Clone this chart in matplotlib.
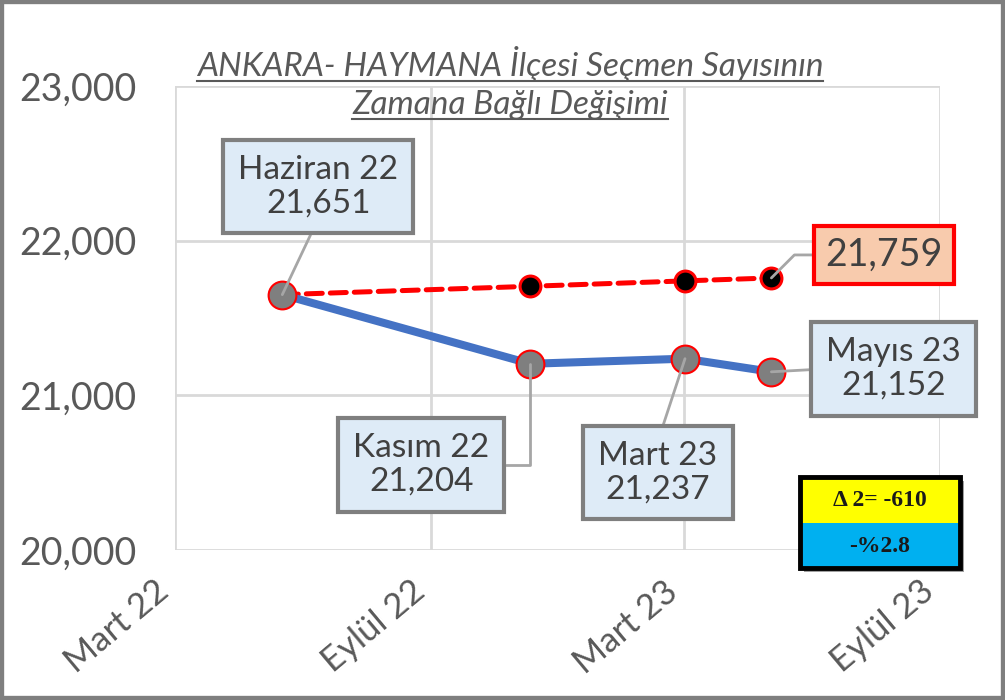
import numpy as np
import pandas as pd
import matplotlib
matplotlib.use("Agg")
import matplotlib.pyplot as plt
from matplotlib.patches import Rectangle
from matplotlib.lines import Line2D

# data
dates = pd.to_datetime(['2022-05-17', '2022-11-11', '2023-03-02', '2023-05-03'])
point_labels = ['Haziran 22', 'Kasım 22', 'Mart 23', 'Mayıs 23']
actual = [21651, 21204, 21237, 21152]
trend = [21651, 21705, 21740, 21759]
tick_dates = pd.to_datetime(['2022-03-01', '2022-09-01', '2023-03-01', '2023-09-01'])
tick_labels = ['Mart 22', 'Eylül 22', 'Mart 23', 'Eylül 23']
y_ticks = [20000, 21000, 22000, 23000]
title_lines = ['ANKARA- HAYMANA İlçesi Seçmen Sayısının', 'Zamana Bağlı Değişimi']
delta_lines = ['Δ 2= -610', '-%2.8']

plt.rcParams['font.family'] = ['Lato', 'DejaVu Sans']

fig = plt.figure(figsize=(10.05, 7), dpi=100)
ax = fig.add_axes([175/1005, 150/700, 765/1005, 464/700])

ax.plot(dates, trend, color='#FF0000', lw=3.6, ls=(0, (3.2, 1.6)), dash_capstyle='round',
        marker='o', ms=15, mfc='black', mec='#FF0000', mew=2.2, markevery=[1, 2, 3], zorder=2)
ax.plot(dates, actual, color='#4472C4', lw=5.8, solid_capstyle='round',
        marker='o', ms=20, mfc='#7F7F7F', mec='#FF0000', mew=1.5, zorder=3)

ax.set_xlim(tick_dates[0], tick_dates[-1])
ax.set_ylim(20000, 23000)
ax.set_xticks(tick_dates)
ax.set_xticklabels(tick_labels, rotation=40, ha='right')
ax.set_yticks(y_ticks)
ax.set_yticklabels([f'{v:,}' for v in y_ticks])
ax.tick_params(axis='both', length=0, labelcolor='#595959')
ax.tick_params(axis='y', labelsize=27, pad=28)
ax.tick_params(axis='x', labelsize=25, pad=18)
ax.grid(color='#D9D9D9', lw=2)
ax.set_axisbelow(True)
for s in ax.spines.values():
    s.set_visible(False)

# callouts: offsets in pixels, relpos of leader start, connection style
callouts = [
    ((36, 108), (0.5, 0), 'arc3'),
    ((-109, -101), (1, 0.5), 'angle,angleA=0,angleB=90,rad=0'),
    ((-27, -114), (0.5, 1), 'arc3'),
    ((122, 3), (0, 0.5), 'arc3'),
]
for d, v, lab, (off, rp, cs) in zip(dates, actual, point_labels, callouts):
    ax.annotate(f'{lab}\n{v:,}', xy=(d, v), xytext=off, textcoords='offset pixels',
                ha='center', va='center', fontsize=24, color='#404040', linespacing=1.15,
                bbox=dict(boxstyle='square,pad=0.45', fc='#DEEBF7', ec='#7F7F7F', lw=3),
                arrowprops=dict(arrowstyle='-', color='#A6A6A6', lw=2, shrinkA=0, shrinkB=0,
                                relpos=rp, connectionstyle=cs), zorder=5)

ax.annotate(f'{trend[-1]:,}', xy=(dates[-1], trend[-1]), xytext=(113, 23), textcoords='offset pixels',
            ha='center', va='center', fontsize=27, color='#404040',
            bbox=dict(boxstyle='square,pad=0.3', fc='#F8CBAD', ec='#FF0000', lw=3),
            arrowprops=dict(arrowstyle='-', color='#A6A6A6', lw=2, shrinkA=0, shrinkB=0,
                            relpos=(0, 0.5), connectionstyle='angle,angleA=0,angleB=45,rad=0'),
            zorder=5)

# title, two underlined lines
titles = []
for i, line in enumerate(title_lines):
    titles.append(fig.text(510/1005, 1 - (64 + 41*i)/700, line, ha='center', va='center',
                           fontsize=24, style='italic', color='#595959'))

# delta box
bx, bw = 800/1005, 160/1005
fig.add_artist(Rectangle((bx + 0.004, 1 - 572/700), bw, 91/700, transform=fig.transFigure,
                         fc='#A0A0A0', ec='none', zorder=8))
fig.add_artist(Rectangle((bx, 1 - 523/700), bw, 46/700, transform=fig.transFigure,
                         fc='#FFFF00', ec='none', zorder=9))
fig.add_artist(Rectangle((bx, 1 - 568/700), bw, 45/700, transform=fig.transFigure,
                         fc='#00B0F0', ec='none', zorder=9))
fig.add_artist(Rectangle((bx, 1 - 568/700), bw, 91/700, transform=fig.transFigure,
                         fc='none', ec='black', lw=3.5, zorder=10))
for i, line in enumerate(delta_lines):
    fig.text(bx + bw/2, 1 - (501 + 45*i)/700, line, ha='center', va='center', fontsize=17,
             fontweight='bold', family='Liberation Serif', color='#1a1a1a', zorder=11)

# outer frame
fig.add_artist(Rectangle((0, 0), 1, 1, transform=fig.transFigure, fill=False,
                         ec='#7F7F7F', lw=6, zorder=20))

fig.canvas.draw()
r = fig.canvas.get_renderer()
for t in titles:
    bb = t.get_window_extent(r).transformed(fig.transFigure.inverted())
    fig.add_artist(Line2D([bb.x0, bb.x1], [bb.y0 + 0.002, bb.y0 + 0.002], transform=fig.transFigure,
                          color='#595959', lw=1.5))

fig.savefig('out.png', dpi=100)
